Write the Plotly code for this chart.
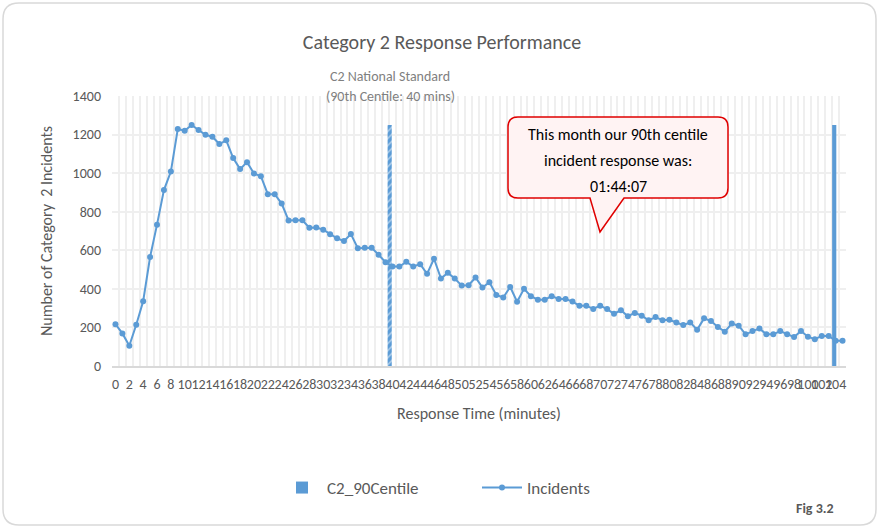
import plotly.graph_objects as go

# response time in minutes (category axis) and incident counts
minutes = list(range(0, 106))
incidents = [217, 169, 105, 214, 336, 565, 733, 912, 1008, 1229,
             1220, 1250, 1224, 1199, 1189, 1151, 1170, 1078, 1021, 1057,
             998, 984, 891, 891, 842, 755, 756, 756, 717, 718,
             707, 683, 662, 648, 684, 611, 613, 613, 577, 538,
             516, 516, 540, 516, 528, 478, 556, 454, 483, 454,
             417, 419, 459, 407, 434, 368, 355, 410, 333, 400,
             362, 344, 344, 362, 348, 348, 334, 313, 313, 296,
             313, 295, 271, 289, 258, 275, 261, 237, 254, 237,
             240, 226, 212, 226, 188, 247, 233, 202, 178, 220,
             209, 164, 181, 195, 164, 164, 181, 164, 150, 181,
             152, 139, 156, 156, 131, 131]
tick_minutes = list(range(0, 105, 2))

standard_minute = [40]
standard_height = [1250]
centile_minute = [104]
centile_height = [1250]

FONT = "Carlito, Liberation Sans Narrow, Open Sans, sans-serif"
GREY = "#595959"
BLUE = "#5b9bd5"

W, H = 879, 528
ML, MR, MT, MB = 112, 33, 96, 162
PW, PH = W - ML - MR, H - MT - MB


def px(x):
    return (x - ML) / PW


def py(y):
    return (H - MB - y) / PH


def rounded_rect(x0, y0, x1, y1, r, tail=None):
    rx, ry = r / PW, r / PH
    a, b, c, d = px(x0), py(y0), px(x1), py(y1)
    p = f"M {a + rx},{b} L {c - rx},{b} Q {c},{b} {c},{b - ry} "
    p += f"L {c},{d + ry} Q {c},{d} {c - rx},{d} "
    if tail:
        (t0, t1, tx, ty) = tail
        p += f"L {px(t1)},{d} L {px(tx)},{py(ty)} L {px(t0)},{d} "
    p += f"L {a + rx},{d} Q {a},{d} {a},{d + ry} L {a},{b - ry} Q {a},{b} {a + rx},{b} Z"
    return p


def note(text, x, y, size, color):
    return dict(text=text, x=px(x), y=py(y), xref="paper", yref="paper",
                xanchor="center", yanchor="middle", showarrow=False,
                font=dict(size=size, color=color))


fig = go.Figure()

fig.add_trace(go.Bar(
    x=standard_minute, y=standard_height, name="C2 National Standard",
    width=0.6, offset=-0.7, showlegend=False,
    marker=dict(color=BLUE, line=dict(width=0),
                pattern=dict(shape="/", fgcolor="white", bgcolor=BLUE, size=5, solidity=0.3)),
))
fig.add_trace(go.Bar(
    x=centile_minute, y=centile_height, name="C2_90Centile",
    width=0.6, offset=-0.5, marker=dict(color=BLUE, line=dict(width=0)),
))
fig.add_trace(go.Scatter(
    x=minutes, y=incidents, mode="lines+markers", name="Incidents",
    line=dict(color=BLUE, width=2), marker=dict(color=BLUE, size=6),
))

fig.update_layout(
    width=W, height=H,
    margin=dict(l=ML, r=MR, t=MT, b=MB),
    paper_bgcolor="white", plot_bgcolor="white",
    barmode="overlay",
    font=dict(family=FONT, color=GREY, size=13),
    title=dict(text="Category 2 Response Performance", x=442 / W, xanchor="center",
               y=1 - 42 / H, yanchor="middle", font=dict(size=20, color=GREY, family=FONT)),
    legend=dict(orientation="h", x=px(477), xanchor="center", y=py(488), yanchor="middle",
                font=dict(size=17, color=GREY, family=FONT), traceorder="normal",
                itemwidth=40, entrywidth=145),
    shapes=[
        dict(type="path", xref="paper", yref="paper", path=rounded_rect(3, 3, 876, 525, 16),
             line=dict(color="#d9d9d9", width=1.5), fillcolor="rgba(0,0,0,0)", layer="below"),
        dict(type="path", xref="paper", yref="paper",
             path=rounded_rect(508, 117, 728, 198, 10, tail=(590, 624, 600, 232)),
             line=dict(color="#e00000", width=1.5), fillcolor="#fff3f3"),
    ],
    annotations=[
        note("C2 National Standard", 390, 77, 14, "#7f7f7f"),
        note("(90th Centile: 40 mins)", 390, 97, 14, "#7f7f7f"),
        note("This month our 90th centile", 618, 134, 16, "black"),
        note("incident response was:", 618, 160, 16, "black"),
        note("01:44:07", 618, 186, 16, "black"),
        note("<b>Fig 3.2</b>", 815, 508, 14, GREY),
    ],
)

fig.update_xaxes(
    range=[-0.5, 105.5], tickmode="array", tickvals=tick_minutes,
    ticktext=[str(t) for t in tick_minutes], tickangle=0,
    tickfont=dict(size=14, color=GREY), showgrid=False, zeroline=False,
    showline=True, linecolor="#d9d9d9", linewidth=2, ticks="", ticklabelstandoff=4,
    minor=dict(tick0=0.5, dtick=1, showgrid=True, gridcolor="#efefef", gridwidth=2),
    title=dict(text="Response Time (minutes)", font=dict(size=16, color=GREY), standoff=16),
)
fig.update_yaxes(
    range=[0, 1400], dtick=200, tickfont=dict(size=14, color=GREY),
    showgrid=True, gridcolor="#efefef", gridwidth=2, zeroline=False, ticks="",
    ticklabelstandoff=10,
    title=dict(text="Number of Category  2 Incidents", font=dict(size=16, color=GREY), standoff=16),
)

fig.write_html("out.html", config={"displayModeBar": False},
               post_script="document.body.style.margin='0';")
